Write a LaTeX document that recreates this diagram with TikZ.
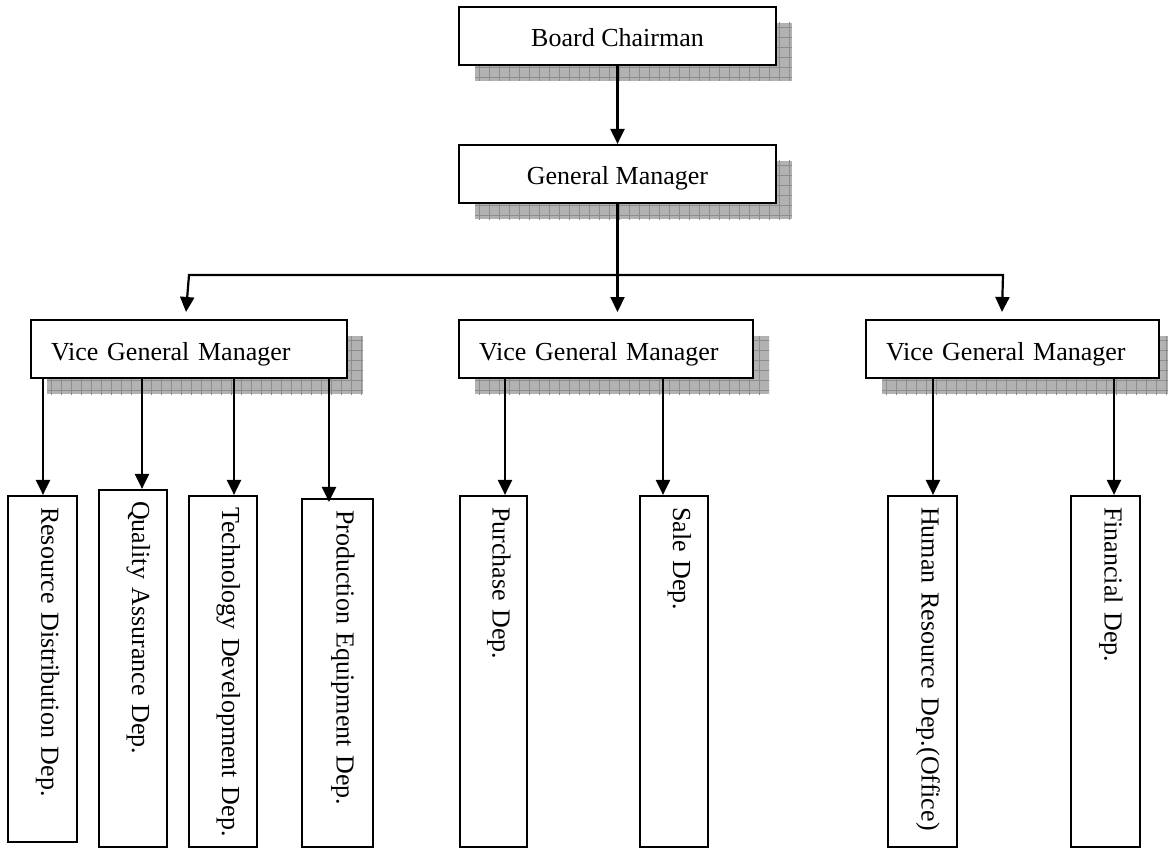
\documentclass[tikz,border=0pt]{standalone}
\usepackage{fontspec}
\setmainfont{Liberation Serif}
\usetikzlibrary{arrows.meta,calc}
\tikzset{
  lbl/.style={font=\fontsize{26}{30}\selectfont},
  hbox/.style={lbl, draw, line width=2.2pt, fill=white, inner ysep=0pt,
    minimum height=58pt, text height=28pt, text depth=6pt},
  vbox/.style={lbl, draw, line width=2.2pt, fill=white, rotate=-90,
    inner xsep=11pt, inner ysep=0pt, align=left, text height=18pt, text depth=16pt},
  arr/.style={line width=2.2pt, -{Triangle[length=15pt,width=14pt]}},
  shadowfill/.style={fill=black!30},
  shadowgrid/.style={draw=black!45, line width=0.7pt},
}
\newcommand\shad[4]{%
  \begin{scope}
    \clip (#1+16,#2+16) rectangle (#3+16,#4+16);
    \fill[shadowfill] (#1+16,#2+16) rectangle (#3+16,#4+16);
    \foreach \gx in {0,10,...,330} {\draw[shadowgrid] (#1+\gx,#2) -- (#1+\gx,#4+20);}
    \foreach \gy in {0,10,...,80} {\draw[shadowgrid] (#1,#2+\gy) -- (#3+20,#2+\gy);}
  \end{scope}}
\begin{document}
\begin{tikzpicture}[x=1pt,y=-1pt]
\useasboundingbox (0,0) rectangle (1168,848);

% shadows
\shad{459}{7}{776}{65}
\shad{459}{145}{776}{203}
\shad{31}{320}{347}{378}
\shad{459}{320}{753}{378}
\shad{866}{320}{1159}{378}

% top boxes
\node[hbox, minimum width=317pt, align=center] (board) at (617.5,36) {Board Chairman};
\node[hbox, minimum width=317pt, align=center] (gm) at (617.5,174) {General Manager};

% vice general managers
\node[hbox, inner xsep=20pt, text width=276pt, align=left] (vgmL) at (189,349) {Vice General Manager};
\node[hbox, inner xsep=20pt, text width=254pt, align=left] (vgmM) at (606,349) {Vice General Manager};
\node[hbox, inner xsep=20pt, text width=253pt, align=left] (vgmR) at (1012.5,349) {Vice General Manager};

% departments
\node[vbox, minimum width=346pt, minimum height=69pt, text width=324pt] (rd) at (42.5,669) {\mbox{Resource Distribution Dep.}};
\node[vbox, minimum width=357pt, minimum height=68pt, text width=335pt] (qa) at (133,668.5) {\mbox{Quality Assurance Dep.}};
\node[vbox, minimum width=351pt, minimum height=68pt, text width=329pt] (td) at (223,671.5) {\mbox{Technology Development Dep.}};
\node[vbox, minimum width=348pt, minimum height=71pt, text width=326pt] (pe) at (337.5,673) {\mbox{Production Equipment Dep.}};
\node[vbox, minimum width=351pt, minimum height=67pt, text width=329pt] (pu) at (493.5,671.5) {\mbox{Purchase Dep.}};
\node[vbox, minimum width=351pt, minimum height=68pt, text width=329pt] (sa) at (674,671.5) {\mbox{Sale Dep.}};
\node[vbox, minimum width=351pt, minimum height=69pt, text width=329pt] (hr) at (922.5,671.5) {\mbox{Human Resource Dep.(Office)}};
\node[vbox, minimum width=351pt, minimum height=69pt, text width=329pt] (fi) at (1105.5,671.5) {\mbox{Financial Dep.}};

% connectors at the top
\draw[arr] (board) -- (gm);
\coordinate (busL) at (189,275);
\coordinate (busR) at (1003,275);
\coordinate (busM) at (gm.south |- busL);
\coordinate (tipL) at (186,312);
\coordinate (tipR) at (1002,312);
\coordinate (tipM) at (gm.south |- 0,312);
\draw[arr] (gm.south) -- (tipM);
\draw[arr] (busM) -- (busL) -- (tipL);
\draw[arr] (busM) -- (busR) -- (tipR);

% connectors to departments
\coordinate (xrd) at (43,0);
\coordinate (xqa) at (142,0);
\coordinate (xtd) at (234,0);
\coordinate (xpe) at (329,0);
\coordinate (xpu) at (505,0);
\coordinate (xsa) at (663,0);
\coordinate (xhr) at (933,0);
\coordinate (xfi) at (1114,0);
\draw[arr] (vgmL.south -| xrd) -- (rd.west -| xrd);
\draw[arr] (vgmL.south -| xqa) -- (qa.west -| xqa);
\draw[arr] (vgmL.south -| xtd) -- (td.west -| xtd);
\draw[arr, shorten >=-4pt] (vgmL.south -| xpe) -- (pe.west -| xpe);
\draw[arr] (vgmM.south -| xpu) -- (pu.west -| xpu);
\draw[arr] (vgmM.south -| xsa) -- (sa.west -| xsa);
\draw[arr] (vgmR.south -| xhr) -- (hr.west -| xhr);
\draw[arr] (vgmR.south -| xfi) -- (fi.west -| xfi);
\end{tikzpicture}
\end{document}
